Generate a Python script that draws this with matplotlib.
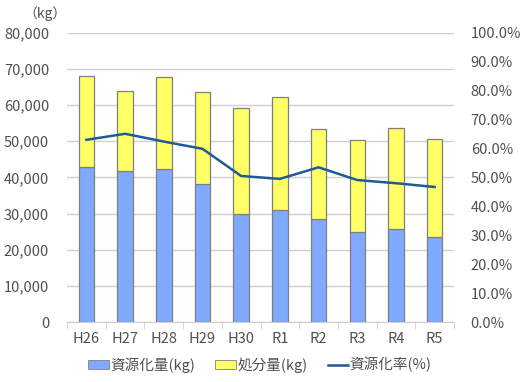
import numpy as np
import matplotlib
matplotlib.use('Agg')
import matplotlib.pyplot as plt
from matplotlib.patches import Patch
from matplotlib.lines import Line2D
from matplotlib.ticker import FuncFormatter

plt.rcParams['font.family'] = ['Noto Sans CJK JP', 'DejaVu Sans']

years = ['H26', 'H27', 'H28', 'H29', 'H30', 'R1', 'R2', 'R3', 'R4', 'R5']
recycled = [42900, 41700, 42350, 38200, 29800, 30900, 28420, 24820, 25650, 23530]
disposed = [25200, 22250, 25350, 25380, 29350, 31470, 24910, 25470, 27950, 27030]
rate = [63.0, 65.1, 62.4, 59.9, 50.5, 49.5, 53.5, 49.1, 48.0, 46.7]

blue = '#80AAFF'
yellow = '#FFFF66'
edge = '#7F7F7F'
line_c = '#1F5B94'
txt = '#505050'
grid_c = '#D0D0D0'
fs = 10.5

fig = plt.figure(figsize=(5.2, 3.82), dpi=100)
ax = fig.add_axes([0.129, 0.157, 0.744, 0.757])
x = np.arange(len(years))

ax.bar(x, recycled, width=0.4, color=blue, edgecolor=edge, linewidth=0.9, zorder=2)
ax.bar(x, disposed, width=0.4, bottom=recycled, color=yellow, edgecolor=edge,
       linewidth=0.9, zorder=2)

ax.set_xlim(-0.5, len(years) - 0.5)
ax.set_ylim(0, 80000)
ax.set_yticks(np.arange(0, 80001, 10000))
ax.yaxis.set_major_formatter(FuncFormatter(lambda v, p: f'{int(v):,}'))
ax.yaxis.grid(True, color=grid_c, linewidth=1, zorder=0)
ax.set_axisbelow(True)
ax.set_xticks(x)
ax.set_xticklabels(years)
ax.set_xticks(np.arange(-0.5, len(years), 1), minor=True)
ax.tick_params(axis='x', which='major', length=0, pad=7, labelsize=fs, labelcolor=txt)
ax.tick_params(axis='x', which='minor', length=5, color=grid_c)
ax.tick_params(axis='y', length=0, pad=13, labelsize=fs, labelcolor=txt)
for s in ['top', 'left', 'right']:
    ax.spines[s].set_visible(False)
ax.spines['bottom'].set_color(grid_c)

ax2 = ax.twinx()
ax2.plot(x, rate, color=line_c, linewidth=1.8, zorder=3)
ax2.set_ylim(0, 100)
ax2.set_yticks(np.arange(0, 100.1, 10))
ax2.yaxis.set_major_formatter(FuncFormatter(lambda v, p: f'{v:.1f}%'))
ax2.tick_params(axis='y', length=0, pad=12, labelsize=fs, labelcolor=txt)
for s in ax2.spines.values():
    s.set_visible(False)

fig.text(0.045, 0.965, '（kg）', fontsize=10, color=txt, va='center')

handles = [
    Patch(facecolor=blue, edgecolor=edge, linewidth=0.6, label='資源化量(kg)'),
    Patch(facecolor=yellow, edgecolor=edge, linewidth=0.6, label='処分量(kg)'),
    Line2D([0], [0], color=line_c, linewidth=1.8, label='資源化率(%)'),
]
fig.legend(handles=handles, loc='center', bbox_to_anchor=(0.5, 0.045), ncol=3,
           frameon=False, fontsize=fs, handlelength=1.4, handleheight=0.6,
           handletextpad=0.1, columnspacing=1.4, labelcolor=txt)

fig.savefig('out.png', dpi=100)
